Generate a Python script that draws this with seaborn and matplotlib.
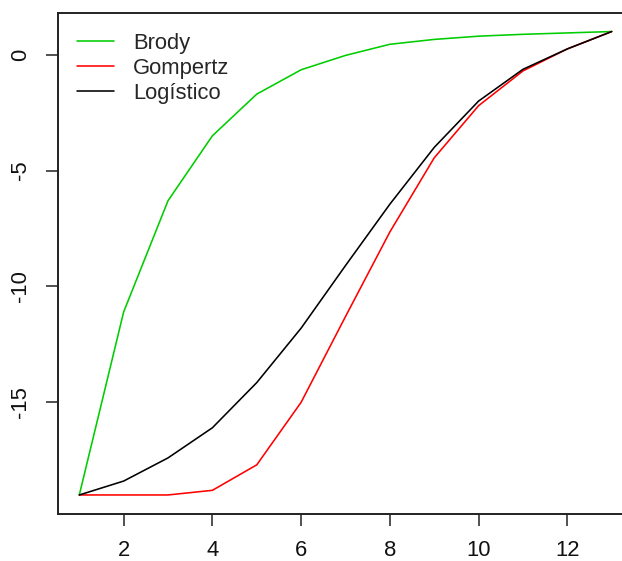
import numpy as np
import pandas as pd
import matplotlib
matplotlib.use("Agg")
import matplotlib.pyplot as plt
import seaborn as sns

# Growth curves evaluated at each time step
x = list(range(1, 14))
brody = [-19.0, -11.1, -6.3, -3.5, -1.7, -0.65, -0.03, 0.45, 0.66, 0.8, 0.88, 0.94, 1.0]
gompertz = [-19.0, -19.0, -19.0, -18.8, -17.7, -15.0, -11.3, -7.65, -4.45, -2.2, -0.7, 0.25, 1.0]
logistico = [-19.0, -18.4, -17.4, -16.1, -14.15, -11.8, -9.1, -6.45, -4.0, -2.0, -0.63, 0.25, 1.0]

models = ["Brody", "Gompertz", "Logístico"]
colors = {"Brody": "#00CD00", "Gompertz": "#FF0000", "Logístico": "#000000"}
x_ticks = [2, 4, 6, 8, 10, 12]
y_ticks = [0, -5, -10, -15]

df = pd.DataFrame({
    "x": x * 3,
    "y": brody + gompertz + logistico,
    "model": [m for m in models for _ in x],
})

sns.set_style("white")
plt.rcParams["font.family"] = ["Liberation Sans", "DejaVu Sans"]

W, H = 622, 561
fig = plt.figure(figsize=(W / 100, H / 100), dpi=100)
left, right, top, bottom = 58, 633, 13, 513.5
ax = fig.add_axes([left / W, 1 - bottom / H, (right - left) / W, (bottom - top) / H])

sns.lineplot(data=df, x="x", y="y", hue="model", hue_order=models,
             palette=colors, linewidth=1.15, ax=ax, sort=False, legend=False)

ax.set_xlim(0.52, 13.48)
ax.set_ylim(-19.8, 1.8)
ax.set_xticks(x_ticks)
ax.set_yticks(y_ticks)
ax.set_xticklabels([str(t) for t in x_ticks])
ax.set_yticklabels([str(t) for t in y_ticks], rotation=90, va="center")
ax.set_xlabel("")
ax.set_ylabel("")
ax.tick_params(axis="both", direction="out", length=8.8, width=1.2,
               color="#333333", labelsize=15.8, labelcolor="#111111",
               bottom=True, left=True)
ax.tick_params(axis="x", pad=10)
ax.tick_params(axis="y", pad=10.5)
for s in ax.spines.values():
    s.set_linewidth(1.4)
    s.set_color("#222222")

handles = [plt.Line2D([], [], color=colors[m], linewidth=1.15) for m in models]
ax.legend(handles, models, loc="upper left", bbox_to_anchor=(0.033, 0.96),
          frameon=False, fontsize=15.8, handlelength=1.7, handletextpad=0.85,
          labelspacing=0.18, borderaxespad=0, borderpad=0)

fig.savefig("out.png", dpi=100)
